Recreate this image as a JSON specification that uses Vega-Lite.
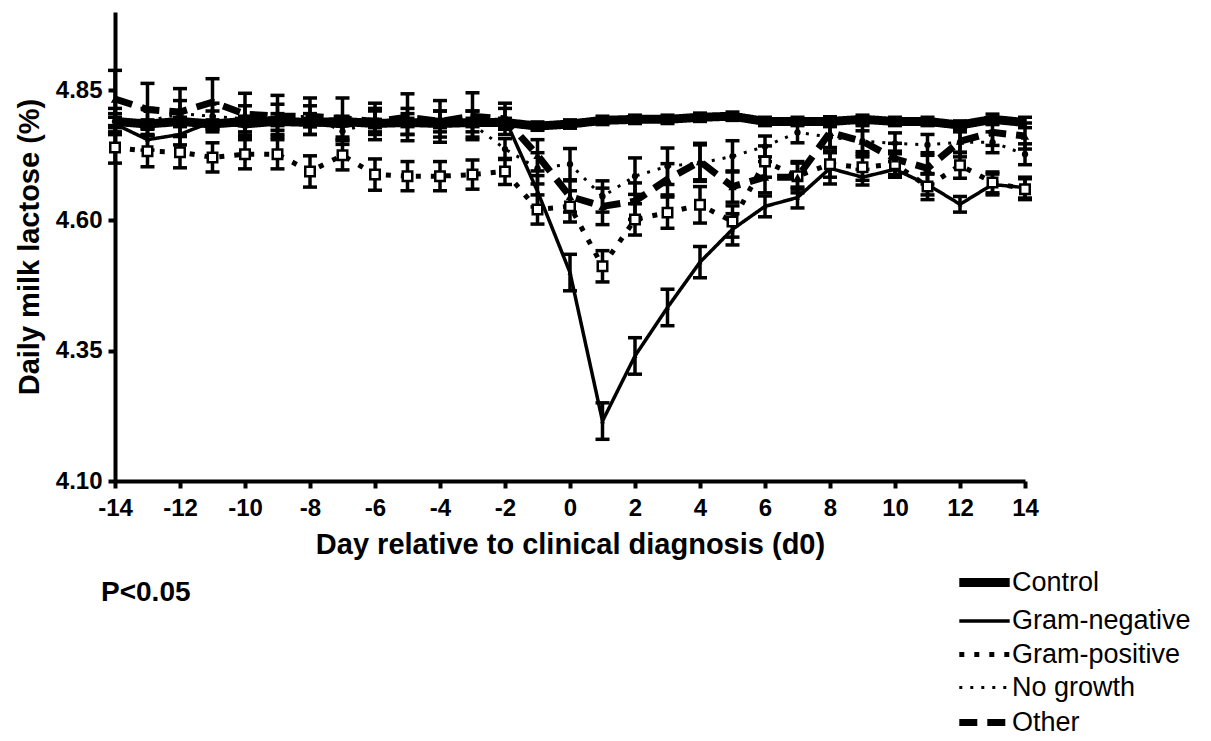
{
  "$schema": "https://vega.github.io/schema/vega-lite/v6.json",
  "autosize": {"type": "none"},
  "padding": {"left": 115, "top": 12, "right": 186, "bottom": 260},
  "width": 910,
  "height": 469,
  "background": "white",
  "config": {
    "view": {"stroke": null},
    "font": "Liberation Sans",
    "axis": {
      "domainColor": "black", "domainWidth": 4, "tickColor": "black", "tickWidth": 4, "tickSize": 7,
      "labelFont": "Liberation Sans", "labelFontWeight": "bold", "labelFontSize": 24, "labelColor": "black",
      "titleFont": "Liberation Sans", "titleFontWeight": "bold", "titleFontSize": 29, "titleColor": "black",
      "grid": false, "labelFlush": false
    },
    "legend": {"labelFont": "Liberation Sans", "labelFontSize": 27, "labelColor": "black", "labelLimit": 400, "padding": 0},
    "title": {"font": "Liberation Sans", "fontSize": 28, "fontWeight": "bold", "color": "black"}
  },
  "title": {"text": "P<0.05", "orient": "bottom", "anchor": "start", "frame": "group", "dx": -14, "offset": 12, "dy": -170},
  "datasets": {
    "d": [
      {"day": -14, "group": "Control", "value": 4.790, "err": 0.008},
      {"day": -13, "group": "Control", "value": 4.785, "err": 0.008},
      {"day": -12, "group": "Control", "value": 4.790, "err": 0.008},
      {"day": -11, "group": "Control", "value": 4.785, "err": 0.008},
      {"day": -10, "group": "Control", "value": 4.790, "err": 0.008},
      {"day": -9, "group": "Control", "value": 4.790, "err": 0.008},
      {"day": -8, "group": "Control", "value": 4.788, "err": 0.008},
      {"day": -7, "group": "Control", "value": 4.790, "err": 0.008},
      {"day": -6, "group": "Control", "value": 4.786, "err": 0.008},
      {"day": -5, "group": "Control", "value": 4.788, "err": 0.008},
      {"day": -4, "group": "Control", "value": 4.786, "err": 0.008},
      {"day": -3, "group": "Control", "value": 4.788, "err": 0.008},
      {"day": -2, "group": "Control", "value": 4.788, "err": 0.008},
      {"day": -1, "group": "Control", "value": 4.781, "err": 0.008},
      {"day": 0, "group": "Control", "value": 4.785, "err": 0.008},
      {"day": 1, "group": "Control", "value": 4.792, "err": 0.008},
      {"day": 2, "group": "Control", "value": 4.794, "err": 0.008},
      {"day": 3, "group": "Control", "value": 4.794, "err": 0.008},
      {"day": 4, "group": "Control", "value": 4.798, "err": 0.008},
      {"day": 5, "group": "Control", "value": 4.800, "err": 0.008},
      {"day": 6, "group": "Control", "value": 4.790, "err": 0.008},
      {"day": 7, "group": "Control", "value": 4.790, "err": 0.008},
      {"day": 8, "group": "Control", "value": 4.790, "err": 0.008},
      {"day": 9, "group": "Control", "value": 4.794, "err": 0.008},
      {"day": 10, "group": "Control", "value": 4.790, "err": 0.008},
      {"day": 11, "group": "Control", "value": 4.790, "err": 0.008},
      {"day": 12, "group": "Control", "value": 4.783, "err": 0.008},
      {"day": 13, "group": "Control", "value": 4.794, "err": 0.010},
      {"day": 14, "group": "Control", "value": 4.788, "err": 0.010},

      {"day": -14, "group": "Gram-negative", "value": 4.785, "err": 0.02},
      {"day": -13, "group": "Gram-negative", "value": 4.755, "err": 0.02},
      {"day": -12, "group": "Gram-negative", "value": 4.765, "err": 0.02},
      {"day": -11, "group": "Gram-negative", "value": 4.790, "err": 0.02},
      {"day": -10, "group": "Gram-negative", "value": 4.780, "err": 0.02},
      {"day": -9, "group": "Gram-negative", "value": 4.785, "err": 0.02},
      {"day": -8, "group": "Gram-negative", "value": 4.785, "err": 0.02},
      {"day": -7, "group": "Gram-negative", "value": 4.780, "err": 0.02},
      {"day": -6, "group": "Gram-negative", "value": 4.790, "err": 0.02},
      {"day": -5, "group": "Gram-negative", "value": 4.785, "err": 0.02},
      {"day": -4, "group": "Gram-negative", "value": 4.790, "err": 0.02},
      {"day": -3, "group": "Gram-negative", "value": 4.790, "err": 0.02},
      {"day": -2, "group": "Gram-negative", "value": 4.795, "err": 0.02},
      {"day": -1, "group": "Gram-negative", "value": 4.656, "err": 0.03},
      {"day": 0, "group": "Gram-negative", "value": 4.500, "err": 0.035},
      {"day": 1, "group": "Gram-negative", "value": 4.215, "err": 0.035},
      {"day": 2, "group": "Gram-negative", "value": 4.340, "err": 0.035},
      {"day": 3, "group": "Gram-negative", "value": 4.433, "err": 0.035},
      {"day": 4, "group": "Gram-negative", "value": 4.520, "err": 0.03},
      {"day": 5, "group": "Gram-negative", "value": 4.583, "err": 0.03},
      {"day": 6, "group": "Gram-negative", "value": 4.627, "err": 0.02},
      {"day": 7, "group": "Gram-negative", "value": 4.644, "err": 0.02},
      {"day": 8, "group": "Gram-negative", "value": 4.700, "err": 0.03},
      {"day": 9, "group": "Gram-negative", "value": 4.683, "err": 0.015},
      {"day": 10, "group": "Gram-negative", "value": 4.698, "err": 0.015},
      {"day": 11, "group": "Gram-negative", "value": 4.669, "err": 0.02},
      {"day": 12, "group": "Gram-negative", "value": 4.631, "err": 0.015},
      {"day": 13, "group": "Gram-negative", "value": 4.669, "err": 0.02},
      {"day": 14, "group": "Gram-negative", "value": 4.663, "err": 0.02},

      {"day": -14, "group": "Gram-positive", "value": 4.740, "err": 0.03},
      {"day": -13, "group": "Gram-positive", "value": 4.733, "err": 0.03},
      {"day": -12, "group": "Gram-positive", "value": 4.731, "err": 0.03},
      {"day": -11, "group": "Gram-positive", "value": 4.721, "err": 0.028},
      {"day": -10, "group": "Gram-positive", "value": 4.727, "err": 0.028},
      {"day": -9, "group": "Gram-positive", "value": 4.727, "err": 0.028},
      {"day": -8, "group": "Gram-positive", "value": 4.694, "err": 0.03},
      {"day": -7, "group": "Gram-positive", "value": 4.725, "err": 0.028},
      {"day": -6, "group": "Gram-positive", "value": 4.688, "err": 0.03},
      {"day": -5, "group": "Gram-positive", "value": 4.685, "err": 0.028},
      {"day": -4, "group": "Gram-positive", "value": 4.685, "err": 0.028},
      {"day": -3, "group": "Gram-positive", "value": 4.688, "err": 0.028},
      {"day": -2, "group": "Gram-positive", "value": 4.694, "err": 0.025},
      {"day": -1, "group": "Gram-positive", "value": 4.621, "err": 0.028},
      {"day": 0, "group": "Gram-positive", "value": 4.627, "err": 0.03},
      {"day": 1, "group": "Gram-positive", "value": 4.512, "err": 0.03},
      {"day": 2, "group": "Gram-positive", "value": 4.602, "err": 0.03},
      {"day": 3, "group": "Gram-positive", "value": 4.615, "err": 0.03},
      {"day": 4, "group": "Gram-positive", "value": 4.630, "err": 0.035},
      {"day": 5, "group": "Gram-positive", "value": 4.598, "err": 0.03},
      {"day": 6, "group": "Gram-positive", "value": 4.713, "err": 0.03},
      {"day": 7, "group": "Gram-positive", "value": 4.685, "err": 0.025},
      {"day": 8, "group": "Gram-positive", "value": 4.708, "err": 0.025},
      {"day": 9, "group": "Gram-positive", "value": 4.702, "err": 0.025},
      {"day": 10, "group": "Gram-positive", "value": 4.708, "err": 0.025},
      {"day": 11, "group": "Gram-positive", "value": 4.665, "err": 0.025},
      {"day": 12, "group": "Gram-positive", "value": 4.706, "err": 0.025},
      {"day": 13, "group": "Gram-positive", "value": 4.673, "err": 0.02},
      {"day": 14, "group": "Gram-positive", "value": 4.660, "err": 0.02},

      {"day": -14, "group": "No growth", "value": 4.790, "err": 0.025},
      {"day": -13, "group": "No growth", "value": 4.790, "err": 0.025},
      {"day": -12, "group": "No growth", "value": 4.805, "err": 0.025},
      {"day": -11, "group": "No growth", "value": 4.800, "err": 0.025},
      {"day": -10, "group": "No growth", "value": 4.795, "err": 0.025},
      {"day": -9, "group": "No growth", "value": 4.798, "err": 0.025},
      {"day": -8, "group": "No growth", "value": 4.800, "err": 0.02},
      {"day": -7, "group": "No growth", "value": 4.771, "err": 0.025},
      {"day": -6, "group": "No growth", "value": 4.790, "err": 0.025},
      {"day": -5, "group": "No growth", "value": 4.790, "err": 0.025},
      {"day": -4, "group": "No growth", "value": 4.785, "err": 0.025},
      {"day": -3, "group": "No growth", "value": 4.785, "err": 0.025},
      {"day": -2, "group": "No growth", "value": 4.737, "err": 0.02},
      {"day": -1, "group": "No growth", "value": 4.700, "err": 0.03},
      {"day": 0, "group": "No growth", "value": 4.708, "err": 0.03},
      {"day": 1, "group": "No growth", "value": 4.646, "err": 0.03},
      {"day": 2, "group": "No growth", "value": 4.685, "err": 0.035},
      {"day": 3, "group": "No growth", "value": 4.704, "err": 0.035},
      {"day": 4, "group": "No growth", "value": 4.710, "err": 0.035},
      {"day": 5, "group": "No growth", "value": 4.723, "err": 0.03},
      {"day": 6, "group": "No growth", "value": 4.742, "err": 0.02},
      {"day": 7, "group": "No growth", "value": 4.769, "err": 0.02},
      {"day": 8, "group": "No growth", "value": 4.760, "err": 0.02},
      {"day": 9, "group": "No growth", "value": 4.752, "err": 0.02},
      {"day": 10, "group": "No growth", "value": 4.748, "err": 0.02},
      {"day": 11, "group": "No growth", "value": 4.745, "err": 0.02},
      {"day": 12, "group": "No growth", "value": 4.750, "err": 0.02},
      {"day": 13, "group": "No growth", "value": 4.750, "err": 0.02},
      {"day": 14, "group": "No growth", "value": 4.727, "err": 0.02},

      {"day": -14, "group": "Other", "value": 4.833, "err": 0.055},
      {"day": -13, "group": "Other", "value": 4.813, "err": 0.05},
      {"day": -12, "group": "Other", "value": 4.808, "err": 0.045},
      {"day": -11, "group": "Other", "value": 4.827, "err": 0.045},
      {"day": -10, "group": "Other", "value": 4.804, "err": 0.04},
      {"day": -9, "group": "Other", "value": 4.800, "err": 0.04},
      {"day": -8, "group": "Other", "value": 4.800, "err": 0.035},
      {"day": -7, "group": "Other", "value": 4.795, "err": 0.04},
      {"day": -6, "group": "Other", "value": 4.790, "err": 0.035},
      {"day": -5, "group": "Other", "value": 4.798, "err": 0.045},
      {"day": -4, "group": "Other", "value": 4.790, "err": 0.04},
      {"day": -3, "group": "Other", "value": 4.800, "err": 0.045},
      {"day": -2, "group": "Other", "value": 4.795, "err": 0.03},
      {"day": -1, "group": "Other", "value": 4.725, "err": 0.03},
      {"day": 0, "group": "Other", "value": 4.646, "err": 0.03},
      {"day": 1, "group": "Other", "value": 4.627, "err": 0.035},
      {"day": 2, "group": "Other", "value": 4.637, "err": 0.035},
      {"day": 3, "group": "Other", "value": 4.679, "err": 0.03},
      {"day": 4, "group": "Other", "value": 4.713, "err": 0.035},
      {"day": 5, "group": "Other", "value": 4.665, "err": 0.03},
      {"day": 6, "group": "Other", "value": 4.683, "err": 0.03},
      {"day": 7, "group": "Other", "value": 4.683, "err": 0.03},
      {"day": 8, "group": "Other", "value": 4.769, "err": 0.03},
      {"day": 9, "group": "Other", "value": 4.752, "err": 0.03},
      {"day": 10, "group": "Other", "value": 4.718, "err": 0.03},
      {"day": 11, "group": "Other", "value": 4.700, "err": 0.03},
      {"day": 12, "group": "Other", "value": 4.752, "err": 0.03},
      {"day": 13, "group": "Other", "value": 4.769, "err": 0.025},
      {"day": 14, "group": "Other", "value": 4.762, "err": 0.025}
    ]
  },
  "data": {"name": "d"},
  "encoding": {
    "x": {
      "field": "day", "type": "quantitative",
      "scale": {"domain": [-14, 14], "nice": false, "zero": false},
      "axis": {"values": [-14, -12, -10, -8, -6, -4, -2, 0, 2, 4, 6, 8, 10, 12, 14], "labelExpr": "'' + datum.value", "labelPadding": 8, "title": "Day relative to clinical diagnosis (d0)", "titlePadding": 10}
    },
    "y": {"field": "value", "type": "quantitative", "scale": {"domain": [4.1, 5.0], "nice": false, "zero": false},
          "axis": {"values": [4.1, 4.35, 4.6, 4.85], "format": ".2f", "labelPadding": 6, "title": "Daily milk lactose (%)", "titlePadding": 11}}
  },
  "layer": [
    {
      "mark": {"type": "errorbar", "color": "black", "opacity": 1, "ticks": {"size": 14, "thickness": 3.5, "color": "black", "opacity": 1}, "rule": {"strokeWidth": 3.5, "color": "black", "opacity": 1}},
      "encoding": {
        "yError": {"field": "err"},
        "detail": {"field": "group", "type": "nominal"}
      }
    },
    {
      "mark": {"type": "line", "color": "black", "strokeCap": "butt"},
      "encoding": {
        "strokeDash": {
          "field": "group", "type": "nominal",
          "scale": {"domain": ["Control", "Gram-negative", "Gram-positive", "No growth", "Other"],
                    "range": [[1, 0], [1, 0], [5, 10], [3, 8], [18, 10]]},
          "legend": {"orient": "none", "legendX": 840, "legendY": 548, "title": null, "symbolType": "M-1.4,0L1.4,0", "symbolSize": 1296, "symbolOffset": 7, "symbolStrokeColor": "black", "symbolFillColor": "transparent", "rowPadding": 0, "labelOffset": 5}
        },
        "strokeWidth": {
          "field": "group", "type": "nominal",
          "scale": {"type": "ordinal", "domain": ["Control", "Gram-negative", "Gram-positive", "No growth", "Other"],
                    "range": [9, 3.5, 5, 3, 7]},
          "legend": {"orient": "none", "legendX": 840, "legendY": 548, "title": null, "symbolType": "M-1.4,0L1.4,0", "symbolSize": 1296, "symbolOffset": 7, "symbolStrokeColor": "black", "symbolFillColor": "transparent", "rowPadding": 0, "labelOffset": 5}
        }
      }
    },
    {
      "transform": [{"filter": {"field": "group", "equal": "Gram-negative"}}],
      "mark": {"type": "point", "shape": "triangle-up", "size": 25, "filled": true, "color": "black", "opacity": 1}
    },
    {
      "transform": [{"filter": {"field": "group", "equal": "Gram-positive"}}],
      "mark": {"type": "point", "shape": "square", "size": 90, "fill": "white", "stroke": "black", "strokeWidth": 2.5, "opacity": 1}
    },
    {
      "transform": [{"filter": {"field": "group", "equal": "No growth"}}],
      "mark": {"type": "point", "shape": "circle", "size": 40, "filled": true, "color": "black", "opacity": 1}
    },
    {
      "transform": [{"filter": {"field": "group", "equal": "Other"}}],
      "mark": {"type": "point", "shape": "triangle-up", "size": 70, "filled": true, "color": "black", "opacity": 1}
    }
  ]
}
